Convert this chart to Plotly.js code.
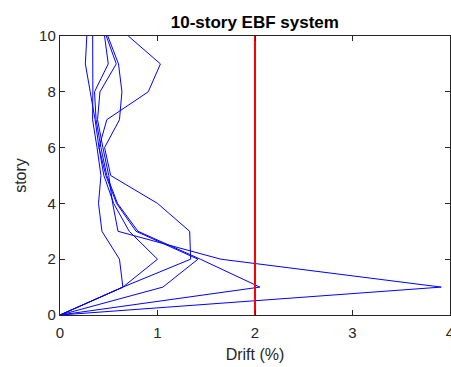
<!DOCTYPE html>
<html>
<head>
<meta charset="utf-8">
<script src="https://cdn.plot.ly/plotly-3.0.1.min.js"></script>
<style>html,body{margin:0;padding:0;background:#fff;}#chart{width:451px;height:367px;}</style>
</head>
<body>
<div id="chart"></div>
<script>
const stories = [0, 1, 2, 3, 4, 5, 6, 7, 8, 9, 10];
const gm1 = [0, 0.645, 0.61, 0.43, 0.395, 0.42, 0.38, 0.334, 0.337, 0.335, 0.335];
const gm2 = [0, 0.645, 1.34, 1.33, 1.0, 0.52, 0.457, 0.61, 0.635, 0.60, 0.49];
const gm3 = [0, 0.645, 1.0, 0.71, 0.55, 0.45, 0.40, 0.36, 0.31, 0.26, 0.275];
const gm4 = [0, 1.055, 1.415, 0.78, 0.58, 0.47, 0.40, 0.48, 0.905, 1.03, 0.70];
const gm5 = [0, 2.05, 1.44, 0.80, 0.59, 0.48, 0.42, 0.37, 0.354, 0.495, 0.457];
const gm6 = [0, 3.91, 1.65, 0.595, 0.54, 0.50, 0.44, 0.385, 0.41, 0.577, 0.475];
const limitX = [2, 2];
const limitY = [0, 10];
const xTicks = [0, 1, 2, 3, 4];
const yTicks = [0, 2, 4, 6, 8, 10];

const series = [gm1, gm2, gm3, gm4, gm5, gm6];
const traces = series.map(s => ({
  x: s, y: stories, type: 'scatter', mode: 'lines',
  line: {color: '#0000ff', width: 1}, showlegend: false, hoverinfo: 'skip'
}));
traces.push({
  x: limitX, y: limitY, type: 'scatter', mode: 'lines',
  line: {color: '#ff0000', width: 2}, showlegend: false, hoverinfo: 'skip'
});

const FONT = 'Liberation Sans, Arial, sans-serif';
const axisCommon = {
  showgrid: false, zeroline: false, showline: true, mirror: 'ticks',
  linecolor: '#262626', linewidth: 1.2, ticks: 'inside', ticklen: 5, tickwidth: 1,
  tickcolor: '#262626', ticklabeloverflow: 'allow',
  tickfont: {family: FONT, size: 15, color: '#262626'}
};

const layout = {
  width: 451, height: 367,
  margin: {l: 60, r: 1, t: 36, b: 52},
  paper_bgcolor: '#ffffff', plot_bgcolor: '#ffffff',
  title: {text: '<b>10-story EBF system</b>', x: 0.565, xanchor: 'center', y: 0.94, yanchor: 'middle',
    font: {family: FONT, size: 17, color: '#000000'}},
  xaxis: Object.assign({}, axisCommon, {
    range: [0, 4], tickvals: xTicks, ticktext: xTicks.map(String), ticklabelstandoff: 4,
    title: {text: 'Drift (%)', standoff: 8, font: {family: FONT, size: 16, color: '#262626'}}
  }),
  yaxis: Object.assign({}, axisCommon, {
    range: [0, 10], tickvals: yTicks, ticktext: yTicks.map(String),
    title: {text: 'story', standoff: 8, font: {family: FONT, size: 16, color: '#262626'}}
  })
};

Plotly.newPlot('chart', traces, layout, {staticPlot: true, displayModeBar: false});
</script>
</body>
</html>
